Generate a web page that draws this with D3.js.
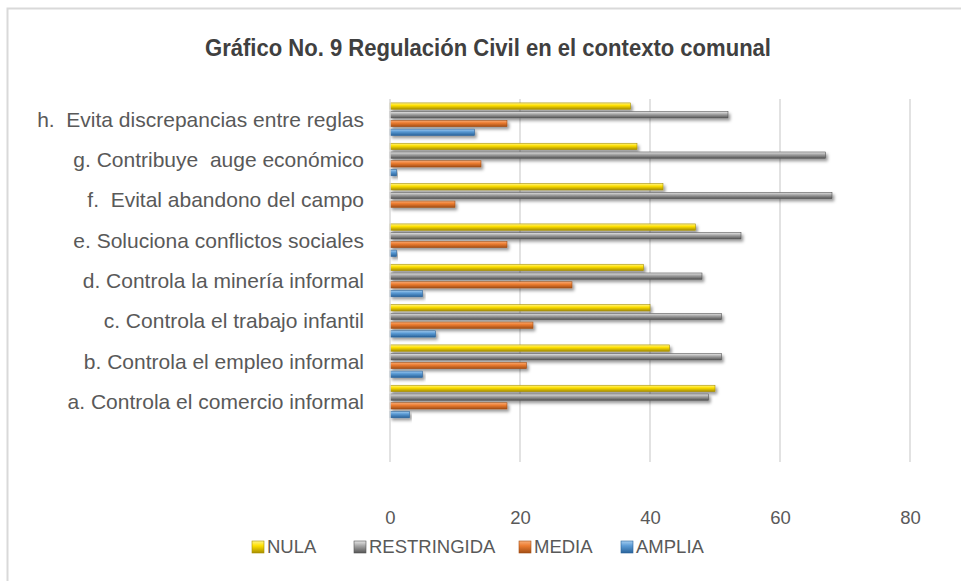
<!DOCTYPE html>
<html>
<head>
<meta charset="utf-8">
<script src="https://cdn.jsdelivr.net/npm/d3@7"></script>
<style>
  body { margin: 0; background: #ffffff; }
  svg { display: block; }
  .catLabel { font-family: "Liberation Sans", Arial, sans-serif; font-size: 21px; fill: #595959; }
  .tick text { font-family: "Liberation Sans", Arial, sans-serif; font-size: 18.5px; fill: #595959; }
  .legText { font-family: "Liberation Sans", Arial, sans-serif; font-size: 18.5px; fill: #595959; }
</style>
</head>
<body>
<div id="chart"></div>
<script>
const W = 961, H = 581;

// categories, top to bottom (last one is the empty row Excel leaves at the bottom)
const categories = [
    "h.  Evita discrepancias entre reglas",
    "g. Contribuye  auge económico",
    "f.  Evital abandono del campo",
    "e. Soluciona conflictos sociales",
    "d. Controla la minería informal",
    "c. Controla el trabajo infantil",
    "b. Controla el empleo informal",
    "a. Controla el comercio informal",
    ""
];
const seriesNames = ["NULA", "RESTRINGIDA", "MEDIA", "AMPLIA"];
const nula        = [37, 38, 42, 47, 39, 40, 43, 50];
const restringida = [52, 67, 68, 54, 48, 51, 51, 49];
const media       = [18, 14, 10, 18, 28, 22, 21, 18];
const amplia      = [13,  1,  0,  1,  5,  7,  5,  3];
const xTicks = [0, 20, 40, 60, 80];

const seriesValues = [nula, restringida, media, amplia];
const colors = {
    NULA:        {light: "#fff48a", base: "#ffe000", dark: "#a88f00"},
    RESTRINGIDA: {light: "#e6e6e6", base: "#a6a6a6", dark: "#555555"},
    MEDIA:       {light: "#f8ad77", base: "#ed7d31", dark: "#a24e15"},
    AMPLIA:      {light: "#a4cdf0", base: "#5b9bd5", dark: "#2a639a"}
};

const svg = d3.select("#chart").append("svg")
    .attr("width", W).attr("height", H);

const defs = svg.append("defs");
seriesNames.forEach((s, i) => {
    const g = defs.append("linearGradient")
        .attr("id", "grad" + i)
        .attr("x1", 0).attr("y1", 0).attr("x2", 0).attr("y2", 1);
    g.append("stop").attr("offset", "0%").attr("stop-color", colors[s].light);
    g.append("stop").attr("offset", "40%").attr("stop-color", colors[s].base);
    g.append("stop").attr("offset", "100%").attr("stop-color", colors[s].dark);
});
const shadow = defs.append("filter").attr("id", "shadow")
    .attr("x", "-5%").attr("y", "-50%").attr("width", "115%").attr("height", "250%");
shadow.append("feDropShadow")
    .attr("dx", 2).attr("dy", 2.5).attr("stdDeviation", 1.6)
    .attr("flood-color", "#000").attr("flood-opacity", 0.4);

// chart frame (only top and left edges are visible in the crop)
svg.append("rect")
    .attr("x", 7.5).attr("y", 8.5)
    .attr("width", W + 20).attr("height", H + 20)
    .attr("fill", "#ffffff")
    .attr("stroke", "#d9d9d9").attr("stroke-width", 2);

// title
svg.append("text")
    .attr("x", 488).attr("y", 56)
    .attr("text-anchor", "middle")
    .attr("textLength", 566).attr("lengthAdjust", "spacingAndGlyphs")
    .style("font-family", "'Liberation Sans Narrow', 'Liberation Sans', Arial, sans-serif")
    .style("font-weight", "bold")
    .style("font-size", "24px")
    .style("fill", "#404040")
    .text("Gráfico No. 9 Regulación Civil en el contexto comunal");

// scales
const x = d3.scaleLinear().domain([0, 80]).range([390, 910]);
const y0 = d3.scaleBand().domain(categories).range([99, 462]);
const y1 = d3.scaleBand().domain(seriesNames)
    .range([0, y0.bandwidth()])
    .paddingInner(0.28).paddingOuter(0.45);

// gridlines
svg.append("g")
    .selectAll("line")
    .data(xTicks.slice(1))
    .enter().append("line")
    .attr("x1", d => x(d)).attr("x2", d => x(d))
    .attr("y1", 99).attr("y2", 462)
    .attr("stroke", "#d9d9d9").attr("stroke-width", 1.5);

// x tick labels
const xAxis = svg.append("g")
    .attr("transform", "translate(0,462)")
    .call(d3.axisBottom(x).tickValues(xTicks).tickSize(0).tickPadding(49));
xAxis.select(".domain").remove();

// bars
const rows = categories.slice(0, 8).map((c, i) => ({cat: c, vals: seriesValues.map(v => v[i])}));
const groups = svg.append("g").selectAll("g")
    .data(rows)
    .enter().append("g")
    .attr("transform", d => `translate(0,${y0(d.cat)})`);
groups.selectAll("rect")
    .data(d => d.vals.map((v, j) => ({s: seriesNames[j], j: j, v: v})))
    .enter().append("rect")
    .filter(d => d.v > 0)
    .attr("x", x(0))
    .attr("y", d => y1(d.s))
    .attr("width", d => x(d.v) - x(0))
    .attr("height", y1.bandwidth())
    .attr("fill", d => `url(#grad${d.j})`)
    .attr("stroke", d => colors[d.s].dark)
    .attr("stroke-width", 0.6)
    .attr("filter", "url(#shadow)");

// vertical axis line at zero
svg.append("line")
    .attr("x1", x(0)).attr("x2", x(0))
    .attr("y1", 99).attr("y2", 462)
    .attr("stroke", "#d9d9d9").attr("stroke-width", 1.5);

// category labels
svg.append("g").selectAll("text")
    .data(categories.slice(0, 8))
    .enter().append("text")
    .attr("class", "catLabel")
    .attr("x", 364)
    .attr("y", d => y0(d) + y0.bandwidth() / 2)
    .attr("dy", "0.35em")
    .attr("text-anchor", "end")
    .attr("xml:space", "preserve")
    .style("white-space", "pre")
    .text(d => d);

// legend
const legX = [252, 354, 519, 621];
const leg = svg.append("g").selectAll("g")
    .data(seriesNames)
    .enter().append("g")
    .attr("transform", (d, i) => `translate(${legX[i]},541)`);
leg.append("rect")
    .attr("width", 12).attr("height", 12)
    .attr("fill", (d, i) => `url(#grad${i})`)
    .attr("stroke", d => colors[d].dark).attr("stroke-width", 0.6);
leg.append("text")
    .attr("class", "legText")
    .attr("x", 15).attr("y", 6).attr("dy", "0.35em")
    .text(d => d);
</script>
</body>
</html>
